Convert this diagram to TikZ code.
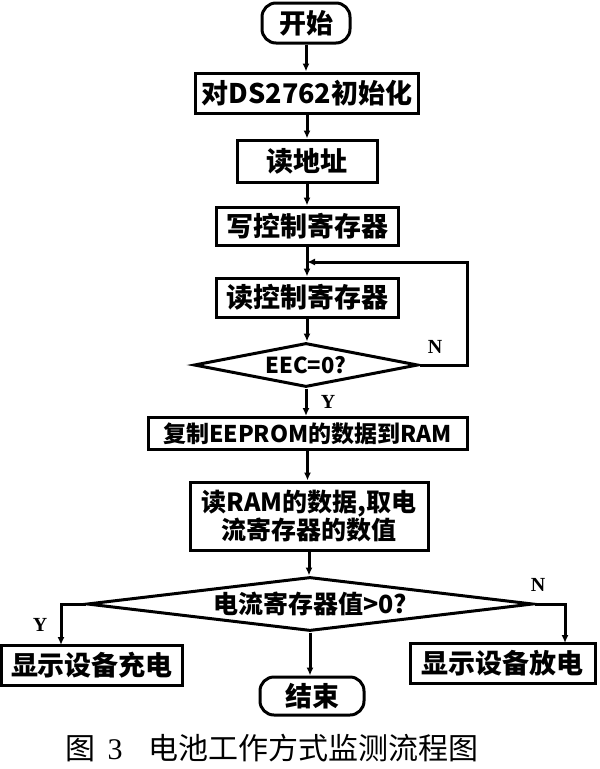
\documentclass[tikz,border=0pt]{standalone}
\usepackage{fontspec}
\setmainfont{Noto Sans CJK SC}
\newfontfamily\latin{Liberation Serif}
\usetikzlibrary{shapes.geometric,arrows.meta}

\begin{document}
\begin{tikzpicture}[x=1pt, y=-1pt, >={Latex[length=8pt,width=7pt]},
	fil/.style={->, line width=3pt},
	boite/.style={draw, rectangle, line width=3pt, inner sep=0pt, font=\fontsize{27pt}{30pt}\selectfont\bfseries},
	terminal/.style={boite, rounded corners=14pt},
	test/.style={draw, diamond, line width=3pt, inner sep=0pt},
	lettre/.style={font=\fontsize{20pt}{20pt}\selectfont\latin\bfseries}]
	\useasboundingbox (0,0) rectangle (600,769);
	\node[terminal, minimum width=88pt, minimum height=40pt] (debut) at (306,23) {开始};
	\node[boite, minimum width=223pt, minimum height=40pt] (init) at (307,93) {对DS2762初始化};
	\node[boite, minimum width=140pt, minimum height=42pt] (adr) at (307,161) {读地址};
	\node[boite, minimum width=182pt, minimum height=38pt] (ecrire) at (307,226) {写控制寄存器};
	\node[boite, minimum width=182pt, minimum height=39pt] (lire) at (307,297.5) {读控制寄存器};
	\node[test, minimum width=224pt, minimum height=44pt, aspect=5, font=\fontsize{22pt}{22pt}\selectfont\bfseries] (eec) at (306,365) {EEC=0?};
	\node[boite, minimum width=319pt, minimum height=32pt, font=\fontsize{23pt}{26pt}\selectfont\bfseries] (copie) at (307.5,433.5) {复制EEPROM的数据到RAM};
	\node[boite, minimum width=238pt, minimum height=68pt, align=center, font=\fontsize{25pt}{27pt}\selectfont\bfseries] (ram) at (309,516) {读RAM的数据,取电\\流寄存器的数值};
	\node[test, minimum width=446pt, minimum height=54pt, aspect=8, font=\fontsize{25pt}{25pt}\selectfont\bfseries] (courant) at (310,604) {电流寄存器值>0?};
	\node[boite, minimum width=181pt, minimum height=40pt] (charge) at (92,665) {显示设备充电};
	\node[boite, minimum width=185pt, minimum height=40pt] (decharge) at (502.5,663) {显示设备放电};
	\node[terminal, minimum width=104pt, minimum height=38pt] (fin) at (312,696) {结束};
	\node[anchor=west, font=\fontsize{30pt}{30pt}\selectfont] (titre) at (62,748) {图\hspace{12pt}{\latin 3}\hspace{26pt}电池工作方式监测流程图};
	\foreach \a/\b in {debut/init, init/adr, adr/ecrire, ecrire/lire, lire/eec, eec/copie, copie/ram, ram/courant, courant/fin}
		\draw[fil] (\a.south) -- (\a.south |- \b.north);
	\coordinate (boucle) at (467,262);
	\coordinate (retour) at (307,262);
	\draw[fil] (eec.east) -| (boucle) -- (retour);
	\coordinate (gauche) at (61,645);
	\coordinate (droite) at (565,643);
	\draw[fil] (courant.west) -| (gauche);
	\draw[fil] (courant.east) -| (droite);
	\node[lettre] (oui1) at (328,402) {Y};
	\node[lettre] (non1) at (435,347) {N};
	\node[lettre] (oui2) at (40,625) {Y};
	\node[lettre] (non2) at (538,585) {N};
\end{tikzpicture}
\end{document}
